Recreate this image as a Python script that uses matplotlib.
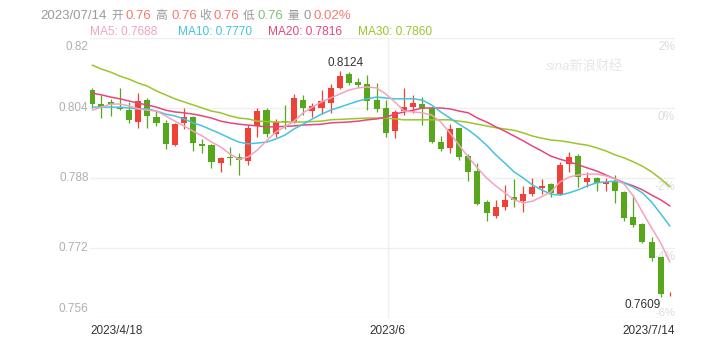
import matplotlib
matplotlib.use('Agg')
import matplotlib.pyplot as plt
import numpy as np

plt.rcParams['font.family'] = ['Liberation Sans', 'Noto Sans CJK SC', 'DejaVu Sans']

# ---------------- data ----------------
opens = [0.8081, 0.8049, 0.8054, 0.8040, 0.8035, 0.8008, 0.8058, 0.8019, 0.8006, 0.7955,
         0.8006, 0.8019, 0.7958, 0.7955, 0.7914, 0.7928, 0.7928, 0.7919, 0.7999, 0.8035,
         0.7981, 0.8011, 0.8008, 0.8058, 0.8033, 0.8040, 0.8051, 0.8086, 0.8118, 0.8099,
         0.8095, 0.8058, 0.8040, 0.7987, 0.8033, 0.8042, 0.8049, 0.8040, 0.7962, 0.7949,
         0.7994, 0.7930, 0.7896, 0.7825, 0.7793, 0.7814, 0.7837, 0.7827, 0.7843, 0.7857,
         0.7866, 0.7843, 0.7912, 0.7930, 0.7871, 0.7880, 0.7866, 0.7873, 0.7848, 0.7791,
         0.7775, 0.7734, 0.7699, 0.7614]
highs = [0.8086, 0.8070, 0.8061, 0.8086, 0.8054, 0.8074, 0.8063, 0.8035, 0.8013, 0.8006,
         0.8040, 0.8022, 0.7969, 0.7958, 0.7928, 0.7951, 0.7937, 0.8001, 0.8040, 0.8040,
         0.8015, 0.8047, 0.8072, 0.8070, 0.8051, 0.8081, 0.8095, 0.8124, 0.8122, 0.8109,
         0.8115, 0.8097, 0.8058, 0.8035, 0.8086, 0.8070, 0.8065, 0.8042, 0.7976, 0.8003,
         0.7995, 0.7935, 0.7914, 0.7830, 0.7830, 0.7864, 0.7878, 0.7862, 0.7880, 0.7878,
         0.7869, 0.7917, 0.7939, 0.7935, 0.7894, 0.7882, 0.7880, 0.7887, 0.7850, 0.7841,
         0.7776, 0.7745, 0.7700, 0.7620]
lows = [0.8040, 0.8017, 0.8022, 0.8035, 0.8006, 0.7994, 0.7994, 0.7999, 0.7946, 0.7953,
        0.7992, 0.7942, 0.7937, 0.7903, 0.7894, 0.7910, 0.7887, 0.7910, 0.7974, 0.7974,
        0.7974, 0.7992, 0.8006, 0.8024, 0.8019, 0.8026, 0.8029, 0.8083, 0.8093, 0.8088,
        0.8035, 0.8031, 0.7974, 0.7971, 0.8024, 0.8029, 0.8001, 0.7960, 0.7942, 0.7937,
        0.7921, 0.7873, 0.7819, 0.7782, 0.7789, 0.7807, 0.7814, 0.7802, 0.7839, 0.7843,
        0.7837, 0.7842, 0.7894, 0.7859, 0.7859, 0.7850, 0.7850, 0.7823, 0.7782, 0.7768,
        0.7731, 0.7690, 0.7609, 0.7610]
closes = [0.8049, 0.8042, 0.8049, 0.8038, 0.8013, 0.8056, 0.8022, 0.8006, 0.7958, 0.8003,
          0.8019, 0.7960, 0.7953, 0.7917, 0.7926, 0.7925, 0.7921, 0.7994, 0.8033, 0.7981,
          0.8008, 0.8008, 0.8063, 0.8040, 0.8045, 0.8056, 0.8086, 0.8113, 0.8097, 0.8093,
          0.8056, 0.8038, 0.7983, 0.8031, 0.8042, 0.8051, 0.8038, 0.7962, 0.7946, 0.7992,
          0.7928, 0.7894, 0.7821, 0.7800, 0.7814, 0.7830, 0.7830, 0.7843, 0.7859, 0.7862,
          0.7846, 0.7910, 0.7928, 0.7882, 0.7880, 0.7869, 0.7871, 0.7850, 0.7789, 0.7773,
          0.7734, 0.7697, 0.7615, 0.7615]

ma5 = [0.8035, 0.8042, 0.8049, 0.8049, 0.8045, 0.8038, 0.8035, 0.8033, 0.8022, 0.8010,
       0.7999, 0.7987, 0.7976, 0.7962, 0.7951, 0.7935, 0.7923, 0.7928, 0.7944, 0.7965,
       0.7985, 0.7997, 0.8010, 0.8029, 0.8042, 0.8054, 0.8063, 0.8072, 0.8081, 0.8086,
       0.8088, 0.8086, 0.8072, 0.8054, 0.8033, 0.8031, 0.8029, 0.8024, 0.8008, 0.7983,
       0.7955, 0.7928, 0.7903, 0.7880, 0.7862, 0.7846, 0.7830, 0.7823, 0.7827, 0.7837,
       0.7848, 0.7871, 0.7882, 0.7887, 0.7889, 0.7889, 0.7885, 0.7878, 0.7866, 0.7839,
       0.7802, 0.7766, 0.7731, 0.7688]
ma10 = [0.8042, 0.8042, 0.8042, 0.8042, 0.8040, 0.8038, 0.8038, 0.8033, 0.8026, 0.8022,
        0.8015, 0.8006, 0.7999, 0.7990, 0.7981, 0.7971, 0.7962, 0.7958, 0.7960, 0.7962,
        0.7969, 0.7978, 0.7992, 0.8003, 0.8015, 0.8026, 0.8035, 0.8042, 0.8049, 0.8056,
        0.8061, 0.8065, 0.8063, 0.8061, 0.8061, 0.8061, 0.8058, 0.8047, 0.8031, 0.8017,
        0.8003, 0.7990, 0.7974, 0.7955, 0.7933, 0.7914, 0.7894, 0.7880, 0.7864, 0.7853,
        0.7843, 0.7841, 0.7846, 0.7853, 0.7862, 0.7869, 0.7871, 0.7873, 0.7869, 0.7859,
        0.7846, 0.7825, 0.7798, 0.7770]
ma20 = [0.8074, 0.8070, 0.8065, 0.8061, 0.8056, 0.8051, 0.8047, 0.8042, 0.8035, 0.8031,
        0.8029, 0.8026, 0.8022, 0.8017, 0.8010, 0.8006, 0.8003, 0.8001, 0.7999, 0.7997,
        0.7997, 0.7998, 0.7999, 0.8001, 0.8002, 0.8003, 0.8006, 0.8007, 0.8008, 0.8010,
        0.8013, 0.8015, 0.8019, 0.8026, 0.8031, 0.8035, 0.8040, 0.8040, 0.8040, 0.8038,
        0.8033, 0.8029, 0.8017, 0.8008, 0.7997, 0.7987, 0.7976, 0.7965, 0.7953, 0.7942,
        0.7930, 0.7923, 0.7917, 0.7910, 0.7903, 0.7896, 0.7887, 0.7878, 0.7869, 0.7862,
        0.7853, 0.7841, 0.7830, 0.7816]
ma30 = [0.8138, 0.8129, 0.8122, 0.8113, 0.8106, 0.8097, 0.8090, 0.8079, 0.8070, 0.8061,
        0.8054, 0.8047, 0.8040, 0.8033, 0.8029, 0.8022, 0.8017, 0.8015, 0.8010, 0.8009,
        0.8008, 0.8008, 0.8008, 0.8008, 0.8009, 0.8010, 0.8013, 0.8014, 0.8015, 0.8016,
        0.8017, 0.8017, 0.8017, 0.8015, 0.8013, 0.8013, 0.8013, 0.8013, 0.8013, 0.8013,
        0.8010, 0.8007, 0.8003, 0.7999, 0.7995, 0.7992, 0.7989, 0.7983, 0.7976, 0.7971,
        0.7967, 0.7965, 0.7962, 0.7958, 0.7955, 0.7949, 0.7942, 0.7933, 0.7926, 0.7917,
        0.7907, 0.7894, 0.7878, 0.7860]

y_ticks = [0.82, 0.804, 0.788, 0.772, 0.756]
y_tick_labels = ['0.82', '0.804', '0.788', '0.772', '0.756']
pct_labels = ['2%', '0%', '-2%', '-4%', '-6%']
x_tick_pos = [0, 32, 63]
x_tick_labels = ['2023/4/18', '2023/6', '2023/7/14']

header_date = '2023/07/14'
header_items = [('开', '0.76'), ('高', '0.76'), ('收', '0.76'), ('低', '0.76')]
header_vol = '0'
header_pct = '0.02%'
ma_names = ['MA5', 'MA10', 'MA20', 'MA30']
ma_last = ['0.7688', '0.7770', '0.7816', '0.7860']
max_label = '0.8124'
min_label = '0.7609'

# ---------------- styling ----------------
W, H = 707, 351
RED = '#ef4136'
GREEN = '#56a71c'
MA_COLORS = ['#f4a3bf', '#45c3de', '#e8467b', '#9cc52b']

fig = plt.figure(figsize=(W / 100, H / 100), dpi=100)
fig.patch.set_facecolor('white')

def fx(px):
    return px / W

def fy(py):
    return 1 - py / H

ax = fig.add_axes([fx(90), fy(318), fx(675) - fx(90), fy(38) - fy(318)])
ax.set_facecolor('white')
for s in ax.spines.values():
    s.set_visible(False)
ax.set_xticks([])
ax.set_yticks([])
ax.set_ylim(0.756, 0.82)
ax.set_xlim(-0.25, 63.55)

# grid
for yv in y_ticks:
    ax.axhline(yv, color='#efefef', lw=0.9, zorder=0)
ax.axvline(x_tick_pos[1] + 0.2, color='#efefef', lw=0.9, zorder=0)

# candles
n = len(opens)
xs = np.arange(n)
o = np.array(opens); c = np.array(closes); h = np.array(highs); l = np.array(lows)
up = c >= o
cols = np.where(up, RED, GREEN)
ax.vlines(xs, l, h, colors=cols, lw=0.9, zorder=2)
bottoms = np.minimum(o, c)
heights = np.maximum(np.abs(c - o), 0.00018)
ax.bar(xs, heights, bottom=bottoms, width=0.66, color=cols, linewidth=0, zorder=3)

# moving averages
for vals, col in zip([ma30, ma20, ma10, ma5], [MA_COLORS[3], MA_COLORS[2], MA_COLORS[1], MA_COLORS[0]]):
    ax.plot(xs, vals, color=col, lw=1.1, zorder=4, solid_capstyle='round')

# max / min annotations
imax = int(np.argmax(h)); imin = int(np.argmin(l))
ax.annotate(max_label, xy=(imax, h[imax]), xytext=(6, 2), textcoords='offset pixels',
            ha='center', va='bottom', fontsize=8.5, color='#333333', zorder=6)
ax.annotate(min_label, xy=(imin, l[imin]), xytext=(0, -2), textcoords='offset pixels',
            ha='right', va='top', fontsize=8.5, color='#333333', zorder=6)

# y labels left
tr_left = ax.get_yaxis_transform()
for k, (yv, lab) in enumerate(zip(y_ticks, y_tick_labels)):
    if k == 0:
        va, dy = 'top', -0.0006
    elif k == len(y_ticks) - 1:
        va, dy = 'bottom', 0.0006
    else:
        va, dy = 'center', 0.0
    ax.text(-0.0025, yv + dy, lab, transform=tr_left, ha='right', va=va,
            fontsize=8.5, color='#b0b0b0', clip_on=False)
# right percent labels
for k, (yv, lab) in enumerate(zip(y_ticks, pct_labels)):
    if k == len(y_ticks) - 1:
        va, dy, fs = 'bottom', 0.0, 8.0
    else:
        va, dy, fs = 'top', -0.0006, 8.5
    ax.text(1.0, yv + dy, lab, transform=tr_left, ha='right', va=va,
            fontsize=fs, color='#dcdcdc', clip_on=False, zorder=1)

# x labels
tr_x = ax.get_xaxis_transform()
ax.text(-0.25, -0.024, x_tick_labels[0], transform=tr_x, ha='left', va='top',
        fontsize=8.5, color='#333333', clip_on=False)
ax.text(x_tick_pos[1] + 0.2, -0.024, x_tick_labels[1], transform=tr_x, ha='center', va='top',
        fontsize=8.5, color='#333333', clip_on=False)
ax.text(63.55, -0.024, x_tick_labels[2], transform=tr_x, ha='right', va='top',
        fontsize=8.5, color='#333333', clip_on=False)

# watermark
fig.text(fx(585), fy(66), 'sina新浪财经', ha='center', va='center', fontsize=9.5,
         color='#e6e6e6', style='italic')

# header line
GRAY = '#9a9a9a'
SALMON = '#f27b72'
LGREEN = '#7cc47a'
hy = fy(16)
fs_h = 9.5
fig.text(fx(40.5), hy, header_date, ha='left', va='center', fontsize=fs_h, color=GRAY)
label_x = [111, 155, 199, 243]
val_x = [126, 171, 214, 258]
for (lab, val), lx, vx in zip(header_items, label_x, val_x):
    fig.text(fx(lx), hy, lab, ha='left', va='center', fontsize=8.5, color=GRAY)
    vc = LGREEN if lab == '低' else SALMON
    fig.text(fx(vx), hy, val, ha='left', va='center', fontsize=fs_h, color=vc)
fig.text(fx(287), hy, '量', ha='left', va='center', fontsize=8.5, color=GRAY)
fig.text(fx(303), hy, header_vol, ha='left', va='center', fontsize=fs_h, color=GRAY)
fig.text(fx(313), hy, header_pct, ha='left', va='center', fontsize=fs_h, color=SALMON)

# MA legend line
my = fy(32)
for name, val, col, px in zip(ma_names, ma_last, MA_COLORS, [90, 178, 268, 358]):
    fig.text(fx(px), my, f'{name}: {val}', ha='left', va='center', fontsize=8.6, color=col)

fig.savefig('out.png', dpi=100, facecolor='white')
